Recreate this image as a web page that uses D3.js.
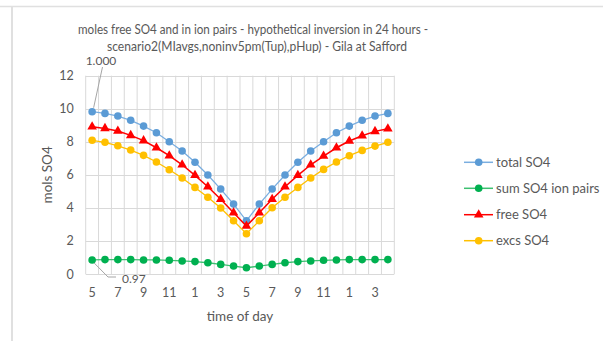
<!DOCTYPE html>
<html>
<head>
<meta charset="utf-8">
<script src="https://cdn.jsdelivr.net/npm/d3@7"></script>
<style>
  html, body { margin: 0; padding: 0; background: #fff; }
  svg { display: block; }
  text { font-family: Lato, "Open Sans", sans-serif; fill: #595959; }
</style>
</head>
<body>
<svg id="chart" width="603" height="341"></svg>
<script>
// ---- data ----
const hours = ["5","6","7","8","9","10","11","12","1","2","3","4","5","6","7","8","9","10","11","12","1","2","3","4"];
const totalSO4 = [9.82,9.72,9.56,9.30,8.95,8.55,8.00,7.44,6.76,5.99,5.14,4.23,3.22,4.23,5.14,5.99,6.76,7.44,8.00,8.55,8.95,9.30,9.56,9.72];
const sumIonPairs = [0.85,0.87,0.87,0.87,0.85,0.85,0.83,0.79,0.75,0.68,0.58,0.48,0.38,0.48,0.58,0.68,0.75,0.79,0.83,0.85,0.87,0.87,0.87,0.87];
const freeSO4 = [8.91,8.81,8.65,8.39,8.07,7.64,7.16,6.61,5.97,5.28,4.52,3.71,2.90,3.71,4.52,5.28,5.97,6.61,7.14,7.64,8.05,8.37,8.63,8.79];
const excsSO4 = [8.09,7.97,7.76,7.50,7.18,6.78,6.31,5.81,5.24,4.64,3.99,3.22,2.44,3.22,4.01,4.64,5.24,5.81,6.33,6.78,7.16,7.48,7.74,7.97];
const yTicks = [0,2,4,6,8,10,12];
const seriesNames = ["total SO4","sum SO4 ion pairs","free SO4","excs SO4"];
const titleLines = ["moles free SO4 and in ion pairs - hypothetical inversion in 24 hours -",
                    "scenario2(MIavgs,noninv5pm(Tup),pHup) - Gila at Safford"];
const labelTotal = "1.000";
const labelIon = "0.97";

(function () {
const series = [
  {name: seriesNames[0], values: totalSO4, color: "#5B9BD5", line: "#7aaee0", shape: "circle"},
  {name: seriesNames[1], values: sumIonPairs, color: "#00B050", line: "#3cc070", shape: "circle"},
  {name: seriesNames[2], values: freeSO4, color: "#FF0000", line: "#FF0000", shape: "triangle"},
  {name: seriesNames[3], values: excsSO4, color: "#FFC000", line: "#FFC000", shape: "circle"}
];

const svg = d3.select("#chart");
const grid = "#d9d9d9";

// outer border (sheet-like)
svg.append("line").attr("x1",0).attr("x2",603).attr("y1",6.5).attr("y2",6.5).attr("stroke","#e0e0e0").attr("stroke-width",1.5);
svg.append("line").attr("x1",12).attr("x2",12).attr("y1",6).attr("y2",341).attr("stroke","#e0e0e0").attr("stroke-width",2);

const pL = 85.7, pR = 394.3, pT = 75.7, pB = 274;
const idx = d3.range(hours.length);
const x = d3.scaleBand().domain(idx).range([pL, pR]).padding(0);
const cx = i => x(i) + x.bandwidth()/2;
const y = d3.scaleLinear().domain([0,12]).range([pB, pT]);

// gridlines
const g = svg.append("g");
g.selectAll(".hg").data(yTicks).join("line")
  .attr("x1", pL).attr("x2", pR)
  .attr("y1", d => Math.round(y(d))+0.5).attr("y2", d => Math.round(y(d))+0.5)
  .attr("stroke", grid).attr("stroke-width", 1);
g.selectAll(".vg").data(d3.range(hours.length+1)).join("line")
  .attr("x1", d => (d < hours.length ? x(d) : pR)).attr("x2", d => (d < hours.length ? x(d) : pR))
  .attr("y1", pT).attr("y2", pB)
  .attr("stroke", grid).attr("stroke-width", 1);

// y axis labels
const yAxis = d3.axisLeft(y).tickValues(yTicks).tickSize(0).tickPadding(12);
const ya = svg.append("g").attr("transform", `translate(${pL},0)`).call(yAxis);
ya.select(".domain").remove();
ya.selectAll("text").style("font-size","12.5px").style("fill","#595959").style("font-family","Lato");

// x axis labels
const xAxis = d3.axisBottom(x).tickValues(idx.filter(i => i % 2 === 0)).tickFormat(i => hours[i]).tickSize(0).tickPadding(14);
const xa = svg.append("g").attr("transform", `translate(0,${pB})`).call(xAxis);
xa.select(".domain").remove();
xa.selectAll("text").style("font-size","12.5px").style("fill","#595959").style("font-family","Lato");

// axis titles
svg.append("text").attr("x", (pL+pR)/2).attr("y", 320.5).attr("text-anchor","middle")
  .style("font-size","13.5px").text("time of day");
svg.append("text").attr("transform", `translate(52,${(pT+pB)/2}) rotate(-90)`).attr("text-anchor","middle")
  .style("font-size","13.5px").text("mols SO4");

// title
const tPos = [{x: 253, y: 33.5, w: 350}, {x: 257, y: 50.5, w: 300}];
titleLines.forEach((t, k) => {
  svg.append("text").attr("x", tPos[k].x).attr("y", tPos[k].y).attr("text-anchor","middle")
    .attr("textLength", tPos[k].w).attr("lengthAdjust", "spacingAndGlyphs")
    .style("font-size","12.5px").text(t);
});

// markers
const triangle = d3.symbol().type(d3.symbolTriangle).size(40);
function drawMarker(sel, s, px, py) {
  if (s.shape === "triangle") {
    sel.append("path").attr("d", triangle()).attr("transform", `translate(${px},${py})`).attr("fill", s.color);
  } else {
    sel.append("circle").attr("cx", px).attr("cy", py).attr("r", 3.8).attr("fill", s.color);
  }
}

// lines + points
const lineGen = d3.line().x((d,i) => cx(i)).y(d => y(d));
series.forEach(s => {
  svg.append("path").datum(s.values).attr("d", lineGen).attr("fill","none")
    .attr("stroke", s.line).attr("stroke-width", s.shape === "triangle" ? 1.5 : 1.3);
  const mg = svg.append("g");
  s.values.forEach((v,i) => drawMarker(mg, s, cx(i), y(v)));
});

// data labels with leader lines
svg.append("line").attr("x1", cx(0)+1.5).attr("y1", y(totalSO4[0])-4).attr("x2", 102.5).attr("y2", 67)
  .attr("stroke","#a6a6a6").attr("stroke-width",1);
svg.append("text").attr("x", 101).attr("y", 64.5).attr("text-anchor","middle").style("font-size","12px").text(labelTotal);
svg.append("polyline")
  .attr("points", `${cx(0)+2},${y(sumIonPairs[0])+3} 108,277 116,277`)
  .attr("fill","none").attr("stroke","#a6a6a6").attr("stroke-width",1);
svg.append("text").attr("x", 122).attr("y", 282.5).style("font-size","12px").text(labelIon);

// legend
const lg = svg.append("g");
const legY = [162.3, 188.3, 214.7, 240.7];
series.forEach((s, k) => {
  const yy = legY[k];
  lg.append("line").attr("x1", 464).attr("x2", 493).attr("y1", yy).attr("y2", yy)
    .attr("stroke", s.line).attr("stroke-width", 1.5);
  drawMarker(lg, s, 478.7, yy);
  lg.append("text").attr("x", 496).attr("y", yy + 4.7).style("font-size","13px").text(s.name);
});
})();
</script>
</body>
</html>
